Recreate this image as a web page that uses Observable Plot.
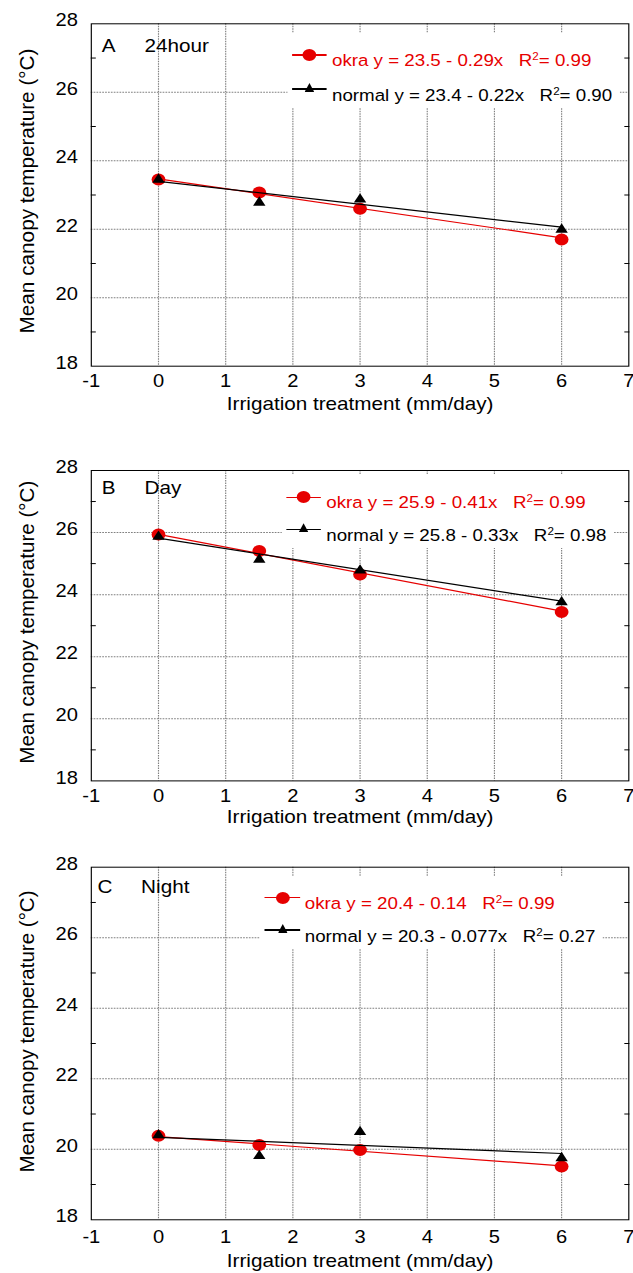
<!DOCTYPE html>
<html><head><meta charset="utf-8">
<script src="https://cdn.jsdelivr.net/npm/d3@7"></script>
<script src="https://cdn.jsdelivr.net/npm/@observablehq/plot@0.6"></script>
<style>
html,body{margin:0;padding:0;background:#fff;overflow:hidden;}
#wrap{position:relative;width:550.4px;height:1273px;transform:scaleX(1.15);transform-origin:0 0;font-family:"Liberation Sans",Arial,sans-serif;}
.panel{position:absolute;left:0;}
.panel svg{overflow:visible;}
.legend{position:absolute;background:#fff;}
.lg-line{position:absolute;height:1.3px;}
.lg-dot{position:absolute;width:12px;height:12px;border-radius:50%;}
.lg-tri{position:absolute;width:8.4px;height:9px;background:#000;clip-path:polygon(50% 0,100% 100%,0 100%);}
.lg-text{position:absolute;white-space:pre;font-size:16.3px;line-height:20px;}
.lg-text sup{font-size:0.62em;vertical-align:0.62em;line-height:0;}
</style></head><body><div id="wrap"></div>
<script>
// ---- data ----
const irrigation = [0, 1.5, 3, 6];
const fitX = [0, 6];
const okraA = [23.45, 23.07, 22.60, 21.70];
const normalA = [23.45, 22.78, 22.87, 21.99];
const okraB = [25.94, 25.41, 24.65, 23.44];
const normalB = [25.87, 25.13, 24.78, 23.76];
const okraC = [20.38, 20.12, 19.98, 19.51];
const normalC = [20.40, 19.81, 20.49, 19.75];
const fitOkraA = [23.47, 21.75];
const fitNormalA = [23.40, 22.06];
const fitOkraB = [25.94, 23.47];
const fitNormalB = [25.82, 23.79];
const fitOkraC = [20.36, 19.53];
const fitNormalC = [20.34, 19.88];
const panelLetters = ["A", "B", "C"];
const periods = ["24hour", "Day", "Night"];
const okraEquations = ["okra y = 23.5 - 0.29x", "okra y = 25.9 - 0.41x", "okra y = 20.4 - 0.14"];
const okraR2 = ["0.99", "0.99", "0.99"];
const normalEquations = ["normal y = 23.4 - 0.22x", "normal y = 25.8 - 0.33x", "normal y = 20.3 - 0.077x"];
const normalR2 = ["0.90", "0.98", "0.27"];
const xTicks = [-1, 0, 1, 2, 3, 4, 5, 6, 7];
const xGrid = [0, 1, 2, 3, 4, 5, 6];
const yTicks = [18, 20, 22, 24, 26, 28];
const yGrid = [20, 22, 24, 26];
const yMinor = [19, 21, 23, 25, 27];
const xLabel = "Irrigation treatment (mm/day)";
const yLabel = "Mean canopy temperature (°C)";

const okraSeries = [okraA, okraB, okraC];
const normalSeries = [normalA, normalB, normalC];
const fitOkraSeries = [fitOkraA, fitOkraB, fitOkraC];
const fitNormalSeries = [fitNormalA, fitNormalB, fitNormalC];

// ---- layout (virtual px; page is stretched 1.15x horizontally) ----
const layout = [
  {svgTop: 0, frameTop: 23.3, frameBottom: 365.7, xPad: 8.1, titleDy: 38.3, labDy: 22.7, letterDx: 9, periodDx: 46.3, yTitleDy: -4, yTitleLen: 285,
   lg: {x: 253.6, textX: 288.7, y1: 55, y2: 89, endX: 533}},
  {svgTop: 420, frameTop: 470, frameBottom: 780.4, xPad: 9.1, titleDy: 36.3, labDy: 17.3, letterDx: 9, periodDx: 46.3, yTitleDy: -3.5, yTitleLen: 283,
   lg: {x: 248.5, textX: 283.7, y1: 497.3, y2: 529.3, endX: 528}},
  {svgTop: 840, frameTop: 866.7, frameBottom: 1219.3, xPad: 11.2, titleDy: 41, labDy: 20, letterDx: 5.4, periodDx: 43.3, yTitleDy: -12, yTitleLen: 282,
   lg: {x: 230.4, textX: 265, y1: 897.7, y2: 930, endX: 518}}
];
const red = "#e60000";
const font = '"Liberation Sans", Arial, sans-serif';
const wrap = document.getElementById("wrap");

layout.forEach((L, i) => {
  const pts = irrigation.map((x, j) => ({x, okra: okraSeries[i][j], normal: normalSeries[i][j]}));
  const fit = fitX.map((x, j) => ({x, okra: fitOkraSeries[i][j], normal: fitNormalSeries[i][j]}));
  const plot = Plot.plot({
    width: 550.4,
    height: L.frameBottom - L.svgTop + 50,
    marginLeft: 78.9, marginRight: 4.1, marginTop: L.frameTop - L.svgTop, marginBottom: 50,
    x: {domain: [-1, 7], label: null},
    y: {domain: [18, 28], label: null},
    style: {fontFamily: font, fontSize: "17.5px", color: "#000", background: "transparent", overflow: "visible"},
    marks: [
      Plot.gridX(xGrid, {stroke: "#808080", strokeOpacity: 1, strokeDasharray: "1.5,1"}),
      Plot.gridY(yGrid, {stroke: "#808080", strokeOpacity: 1, strokeDasharray: "1.5,1"}),
      Plot.axisY(yMinor, {anchor: "left", tickSize: -4.4, tickFormat: () => "", label: null}),
      Plot.axisY(yMinor, {anchor: "right", tickSize: -4.4, tickFormat: () => "", label: null}),
      Plot.axisX(xTicks, {tickSize: 0, tickPadding: L.xPad, tickFormat: d => String(d), label: null}),
      Plot.axisY(yTicks, {anchor: "left", tickSize: 0, tickPadding: 11.7, dy: -3, tickFormat: d => String(d), label: null}),
      Plot.frame({stroke: "#000", strokeWidth: 1}),
      Plot.line(fit, {x: "x", y: "okra", stroke: red, strokeWidth: 1.2}),
      Plot.dot(pts, {x: "x", y: "okra", r: 6, fill: red}),
      Plot.line(fit, {x: "x", y: "normal", stroke: "#000", strokeWidth: 1.2}),
      Plot.dot(pts, {x: "x", y: "normal", symbol: "triangle", r: 4, fill: "#000"}),
      Plot.text([panelLetters[i]], {frameAnchor: "top-left", dx: L.letterDx, dy: L.labDy, textAnchor: "start", lineAnchor: "middle", fontSize: 18}),
      Plot.text([periods[i]], {frameAnchor: "top-left", dx: L.periodDx, dy: L.labDy, textAnchor: "start", lineAnchor: "middle", fontSize: 18}),
      Plot.text([xLabel], {frameAnchor: "bottom", dy: L.titleDy, lineAnchor: "middle", fontSize: 18}),
      Plot.text([yLabel], {frameAnchor: "left", dx: -55.7, dy: L.yTitleDy, rotate: -90, textAnchor: "middle", lineAnchor: "middle", fontSize: 17})
    ]
  });
  const div = document.createElement("div");
  div.className = "panel";
  div.style.top = L.svgTop + "px";
  div.appendChild(plot);
  wrap.appendChild(div);
  plot.querySelectorAll("text").forEach(t => {
    if (t.textContent === yLabel) {
      t.setAttribute("textLength", L.yTitleLen);
      t.setAttribute("lengthAdjust", "spacingAndGlyphs");
    }
  });

  // legend (HTML overlay)
  const g = L.lg;
  const box = document.createElement("div");
  box.className = "legend";
  box.style.left = (g.x - 4) + "px";
  box.style.top = (g.y1 - 22) + "px";
  box.style.width = (g.endX - g.x + 10) + "px";
  box.style.height = (g.y2 + 19 - (g.y1 - 22)) + "px";
  wrap.appendChild(box);
  const add = (cls, css, html) => {
    const e = document.createElement("div");
    e.className = cls;
    Object.assign(e.style, css);
    if (html) e.innerHTML = html;
    wrap.appendChild(e);
  };
  add("lg-line", {left: g.x + "px", top: (g.y1 - 0.65) + "px", width: "30.9px", background: red});
  add("lg-dot", {left: (g.x + 15.5 - 6) + "px", top: (g.y1 - 6) + "px", background: red});
  add("lg-text", {left: g.textX + "px", top: (g.y1 - 5) + "px", color: red}, `${okraEquations[i]}   R<sup>2</sup>= ${okraR2[i]}`);
  add("lg-line", {left: g.x + "px", top: (g.y2 - 0.65) + "px", width: "30.9px", background: "#000"});
  add("lg-tri", {left: (g.x + 15.5 - 4.2) + "px", top: (g.y2 - 6) + "px"});
  add("lg-text", {left: g.textX + "px", top: (g.y2 - 4) + "px", color: "#000"}, `${normalEquations[i]}   R<sup>2</sup>= ${normalR2[i]}`);
});
</script></body></html>
